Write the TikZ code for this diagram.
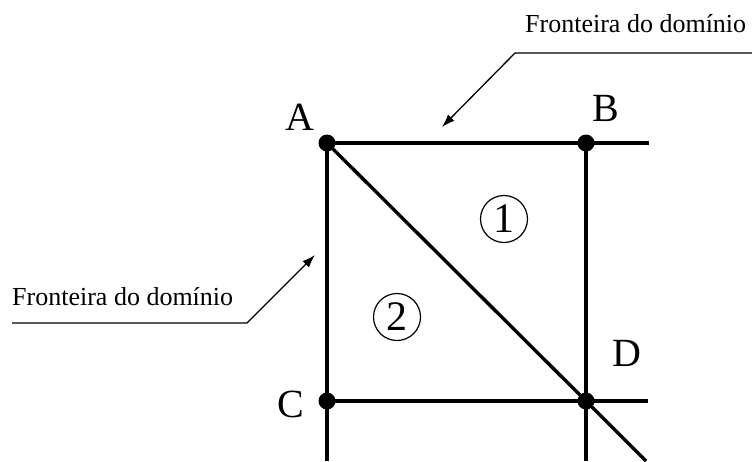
\documentclass[tikz,border=0pt]{standalone}
\usepackage{fontspec}
\setmainfont{Liberation Serif}
\usetikzlibrary{positioning,arrows.meta}

\begin{document}
\begin{tikzpicture}[x=1pt,y=-1pt,
  edge/.style={line width=3.4pt},
  lead/.style={line width=1.3pt},
  dot/.style={circle,fill,inner sep=0pt,minimum size=17pt},
  vlabel/.style={font=\fontsize{40}{42}\selectfont,inner sep=0pt},
  region/.style={circle,draw,line width=1.2pt,inner sep=0pt,minimum size=47pt,font=\fontsize{42}{42}\selectfont},
  note/.style={font=\fontsize{26}{30}\selectfont,inner sep=0pt,anchor=base west}]
  \useasboundingbox (0,0) rectangle (752,461);
  % mesh points and free line ends
  \coordinate (A) at (327,143);
  \coordinate (B) at (586,143);
  \coordinate (C) at (327,401);
  \coordinate (D) at (586,401);
  \coordinate (Be) at (649,143);
  \coordinate (De) at (648,401);
  \coordinate (Cb) at (327,461);
  \coordinate (Db) at (586,461);
  \coordinate (Dd) at (646,461);
  % mesh lines
  \draw[edge] (A) -- (B) -- (Be);
  \draw[edge] (C) -- (D) -- (De);
  \draw[edge] (A) -- (C) -- (Cb);
  \draw[edge] (B) -- (D) -- (Db);
  \draw[edge] (A) -- (D) -- (Dd);
  % nodes
  \foreach \p in {A,B,C,D} { \node[dot] (d\p) at (\p) {}; }
  \node[vlabel] (lA) at (300,117) {A};
  \node[vlabel] (lB) at (606,108) {B};
  \node[vlabel] (lC) at (291,404) {C};
  \node[vlabel] (lD) at (627,353) {D};
  % element numbers
  \node[region] (r1) at (504,219) {1};
  \node[region] (r2) at (397,317) {2};
  % boundary notes
  \node[note] (n1) at (525,32) {Fronteira do domínio};
  \coordinate (n1r) at (752,53);
  \coordinate (n1l) at (515,53);
  \coordinate (t1) at (442,127);
  \draw[lead,-{Latex[length=13pt,width=9pt]}] (n1r) -- (n1l) -- (t1);
  \node[note] (n2) at (12,305) {Fronteira do domínio};
  \coordinate (n2l) at (12,323);
  \coordinate (n2r) at (247,323);
  \coordinate (t2) at (315,255);
  \draw[lead,-{Latex[length=13pt,width=9pt]}] (n2l) -- (n2r) -- (t2);
\end{tikzpicture}
\end{document}
